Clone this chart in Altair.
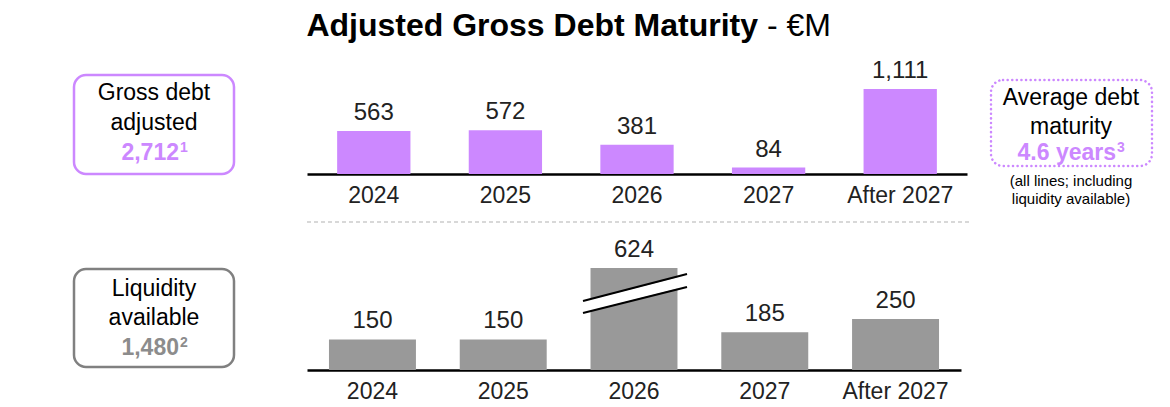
import altair as alt
import pandas as pd

# ---------------- data ----------------
categories = ["2024", "2025", "2026", "2027", "After 2027"]
gross_debt = [563, 572, 381, 84, 1111]
liquidity = [150, 150, 624, 185, 250]
liquidity_break_at = 500  # the 2026 bar is drawn with an axis break

gross_total = "2,712"
liquidity_total = "1,480"
avg_maturity = "4.6 years"
footnotes = ["1", "2", "3"]

PURPLE = "#CC88FF"
GRAY = "#999999"
BOX_GRAY = "#808080"
NUM_GRAY = "#8C8C8C"
FONT = "Liberation Sans"

top_df = pd.DataFrame({"cat": categories, "v": gross_debt})
bot_df = pd.DataFrame({"cat": categories, "v": liquidity})
bot_df["shown"] = bot_df["v"].clip(upper=liquidity_break_at)
one = pd.DataFrame({"k": [0]})


def txt(s, x, y, size, color="black", weight="normal", align="center", baseline="middle"):
    return alt.Chart(one).mark_text(
        text=s, font=FONT, fontSize=size, color=color, fontWeight=weight,
        align=align, baseline=baseline
    ).encode(x=alt.value(x), y=alt.value(y))


def box(x1, x2, y1, y2, color, dash=None):
    kw = dict(cornerRadius=12, fillOpacity=0, stroke=color, strokeWidth=2.5)
    if dash:
        kw["strokeDash"] = dash
        kw["strokeCap"] = "round"
    return alt.Chart(one).mark_rect(**kw).encode(
        x=alt.value(x1), x2=alt.value(x2), y=alt.value(y1), y2=alt.value(y2)
    )


def rule(x1, y1, x2, y2, color, width, dash=None):
    kw = dict(color=color, strokeWidth=width)
    if dash:
        kw["strokeDash"] = dash
    return alt.Chart(one).mark_rule(**kw).encode(
        x=alt.value(x1), x2=alt.value(x2), y=alt.value(y1), y2=alt.value(y2)
    )


def xenc(pi, po):
    return alt.X(
        "cat:N", sort=categories, title=None,
        scale=alt.Scale(paddingInner=pi, paddingOuter=po),
        axis=alt.Axis(labelAngle=0, ticks=False, domainColor="black",
                      domainWidth=2.5, labelFont=FONT, labelFontSize=23,
                      labelColor="#222222", labelPadding=10),
    )


# ---------------- top panel ----------------
xt = xenc(0.443, 0.229)
bars_top = alt.Chart(top_df).mark_bar(color=PURPLE).encode(
    x=xt,
    y=alt.Y("v:Q", scale=alt.Scale(domain=[0, 1490], nice=False), axis=None),
)
labels_top = alt.Chart(top_df).mark_text(
    font=FONT, fontSize=24, dy=-18, baseline="middle", color="#222222"
).encode(x=xt, y="v:Q", text=alt.Text("v:Q", format=","))

anchor = alt.Chart(one).mark_rect(opacity=0).encode(
    x=alt.value(-299), x2=alt.value(-298), y=alt.value(-52), y2=alt.value(-51)
)

top = alt.layer(
    anchor,
    bars_top,
    labels_top,
    txt("Adjusted Gross Debt Maturity", 451, -49, 32, weight="bold", align="right", baseline="top"),
    txt("- €M", 460, -49, 32, align="left", baseline="top"),
    box(-233, -73, 15, 114, PURPLE),
    txt("Gross debt", -153, 33, 23),
    txt("adjusted", -153, 63, 23),
    txt(gross_total, -128, 93, 23, color=PURPLE, weight="bold", align="right"),
    txt(footnotes[0], -127, 88, 14, color=PURPLE, weight="bold", align="left"),
    box(684, 845, 20, 106, PURPLE, dash=[0.1, 4.5]),
    txt("Average debt", 764, 38, 23),
    txt("maturity", 764, 67, 23),
    txt(avg_maturity, 809, 93, 23, color=PURPLE, weight="bold", align="right"),
    txt(footnotes[2], 810, 88, 14, color=PURPLE, weight="bold", align="left"),
    txt("(all lines; including", 764, 121, 15),
    txt("liquidity available)", 764, 139, 15),
    rule(0, 162, 665, 162, "#CCCCCC", 1.5, dash=[4, 3]),
).properties(width=660, height=114)

# ---------------- bottom panel ----------------
xb = xenc(0.335, 0.168)
bars_bot = alt.Chart(bot_df).mark_bar(color=GRAY).encode(
    x=xb,
    y=alt.Y("shown:Q", scale=alt.Scale(domain=[0, 637], nice=False), axis=None),
)
labels_bot = alt.Chart(bot_df).mark_text(
    font=FONT, fontSize=24, dy=-18, baseline="middle", color="#222222"
).encode(x=xb, y="shown:Q", text=alt.Text("v:Q", format=","))

bottom = alt.layer(
    bars_bot,
    labels_bot,
    rule(276, 67, 380, 40.5, "white", 11),
    rule(276, 61, 380, 34, "black", 2),
    rule(276, 73, 380, 47, "black", 2),
    box(-233, -73, 29, 127, BOX_GRAY),
    txt("Liquidity", -153, 49, 23),
    txt("available", -153, 78, 23),
    txt(liquidity_total, -128, 108, 23, color=NUM_GRAY, weight="bold", align="right"),
    txt(footnotes[1], -127, 103, 14, color=NUM_GRAY, weight="bold", align="left"),
).properties(width=654, height=130)

chart = alt.vconcat(top, bottom, spacing=66, bounds="flush", padding=0).configure_view(
    stroke=None
)

chart.save("out.html", embed_options={"renderer": "svg", "actions": False})
